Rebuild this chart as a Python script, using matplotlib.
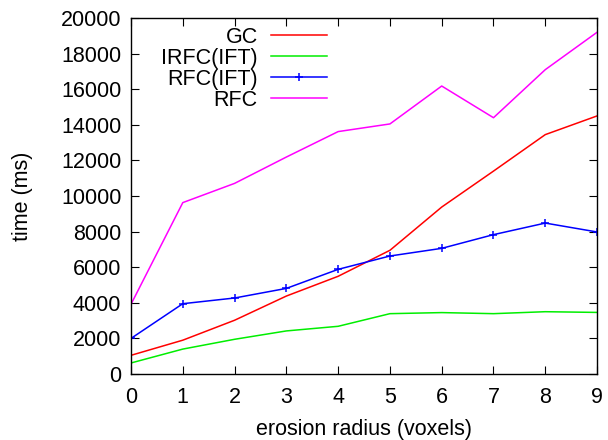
import matplotlib
matplotlib.use("agg")
import matplotlib.pyplot as plt

# erosion radius (voxels)
radius = [0, 1, 2, 3, 4, 5, 6, 7, 8, 9]

# time (ms)
gc = [1050, 1900, 3020, 4380, 5490, 6950, 9380, 11400, 13450, 14500]
irfc_ift = [620, 1400, 1950, 2420, 2680, 3390, 3450, 3390, 3500, 3460]
rfc_ift = [2000, 3950, 4270, 4810, 5880, 6630, 7060, 7830, 8480, 7980]
rfc = [3920, 9630, 10710, 12190, 13620, 14050, 16180, 14400, 17100, 19200]

plt.rcParams['font.family'] = ['Liberation Sans', 'DejaVu Sans']

fig = plt.figure(figsize=(6.08, 4.40), dpi=100)
ax = fig.add_axes([0.2155, 0.15, 0.7665, 0.809])

ax.plot(radius, gc, color='#ff0000', lw=1.1, label='GC')
ax.plot(radius, irfc_ift, color='#00ee00', lw=1.1, label='IRFC(IFT)')
ax.plot(radius, rfc_ift, color='#0000ff', lw=1.1, marker='+', ms=6,
        mew=1.1, label='RFC(IFT)')
ax.plot(radius, rfc, color='#ff00ff', lw=1.1, label='RFC')

ax.set_xlim(0, 9)
ax.set_ylim(0, 20000)
ax.set_xticks(radius)
ax.set_yticks(range(0, 20001, 2000))
ax.tick_params(direction='in', top=True, right=True, labelsize=15.5,
               length=6, width=0.8, pad=7)
ax.tick_params(axis='x', pad=9)
for s in ax.spines.values():
    s.set_linewidth(1.0)

ax.set_xlabel('erosion radius (voxels)', fontsize=15.5, labelpad=8)
ax.set_ylabel('time (ms)', fontsize=15.5, labelpad=20)

ax.legend(loc='upper right', bbox_to_anchor=(0.42, 0.975), frameon=False,
          markerfirst=False, fontsize=15.5, handlelength=2.6, handletextpad=0.6,
          labelspacing=0.0, borderpad=0, borderaxespad=0, numpoints=1)

fig.savefig('out.png', dpi=100)
